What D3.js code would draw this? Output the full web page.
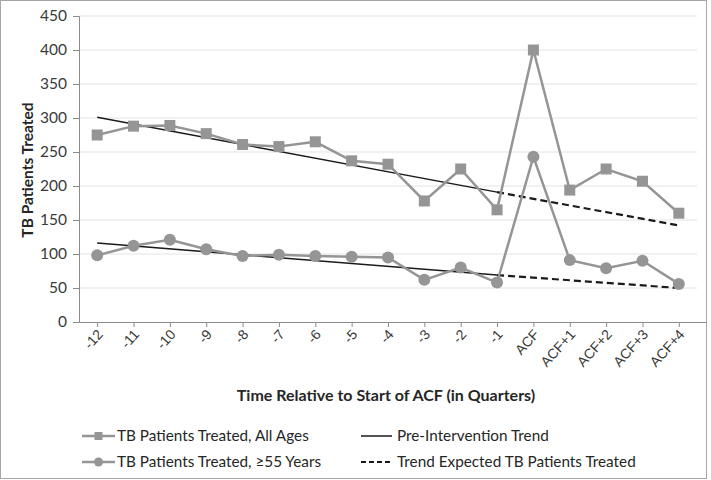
<!DOCTYPE html>
<html><head><meta charset="utf-8">
<script src="https://cdn.jsdelivr.net/npm/d3@7"></script>
<style>
body{margin:0;background:#fff;}
svg{font-family:Lato,"Open Sans",sans-serif;}
</style></head>
<body><svg id="chart" width="711" height="480"></svg>
<script>
const categories = ["-12","-11","-10","-9","-8","-7","-6","-5","-4","-3","-2","-1","ACF","ACF+1","ACF+2","ACF+3","ACF+4"];
const allAges = [275,288,289,277,261,258,265,237,232,178,225,165,400,194,225,207,160];
const age55 = [98,112,121,107,97,99,97,96,95,62,80,58,243,91,79,90,56];
const preTrendAll = [{c:"-12",v:301},{c:"-1",v:191}];
const expectedAll = [{c:"-1",v:191},{c:"ACF+4",v:142}];
const preTrend55 = [{c:"-12",v:116},{c:"-1",v:69}];
const expected55 = [{c:"-1",v:69},{c:"ACF+4",v:50}];
const yTicks = [0,50,100,150,200,250,300,350,400,450];

const svg = d3.select("#chart");
svg.append("rect").attr("x",0.5).attr("y",0.5).attr("width",706).attr("height",478)
  .attr("fill","#fff").attr("stroke","#a6a6a6").attr("stroke-width",1);

const pL=79, pR=697, pT=16, pB=322;
const x = d3.scalePoint().domain(categories).range([pL,pR]).padding(0.5);
const y = d3.scaleLinear().domain([0,450]).range([pB,pT]);

// grid
svg.append("g").selectAll("line").data(yTicks.filter(d=>d>0)).join("line")
  .attr("x1",pL).attr("x2",pR).attr("y1",d=>y(d)).attr("y2",d=>y(d))
  .attr("stroke","#e3e3e3").attr("stroke-width",1.2);

// y axis
const yAxis = svg.append("g").attr("transform",`translate(${pL},0)`)
  .call(d3.axisLeft(y).tickValues(yTicks).tickSize(6).tickPadding(6));
yAxis.select(".domain").attr("stroke","#8c8c8c");
yAxis.selectAll(".tick line").attr("stroke","#8c8c8c");
yAxis.selectAll("text").attr("font-size",15.5).attr("fill","#3a3a3a").attr("font-family","Lato,sans-serif");

// x axis
const xAxis = svg.append("g").attr("transform",`translate(0,${pB})`)
  .call(d3.axisBottom(x).tickSize(5).tickSizeOuter(0));
xAxis.select(".domain").attr("stroke","#8c8c8c").attr("d",`M${pL},0.5H${pR+10}`);
xAxis.selectAll(".tick line").attr("stroke","#8c8c8c");
xAxis.selectAll("text").attr("font-size",14).attr("fill","#3a3a3a")
  .attr("text-anchor","end").attr("dy",0).attr("y",0)
  .attr("transform","translate(6,13) rotate(-48)");

// trend lines
const lineT = d3.line().x(d=>x(d.c)).y(d=>y(d.v));
[[preTrendAll,null],[preTrend55,null],[expectedAll,"7,4"],[expected55,"7,4"]].forEach(([d,dash])=>{
  svg.append("path").attr("d",lineT(d)).attr("fill","none").attr("stroke","#1a1a1a")
    .attr("stroke-width",dash?2.2:1.5).attr("stroke-dasharray",dash);
});

// series
const gray="#959595";
const line = d3.line().x((d,i)=>x(categories[i])).y(d=>y(d));
svg.append("path").attr("d",line(allAges)).attr("fill","none").attr("stroke",gray).attr("stroke-width",2.5);
svg.append("path").attr("d",line(age55)).attr("fill","none").attr("stroke",gray).attr("stroke-width",2.5);
svg.append("g").selectAll("rect").data(allAges).join("rect")
  .attr("x",(d,i)=>x(categories[i])-5.5).attr("y",d=>y(d)-5.5).attr("width",11).attr("height",11).attr("fill",gray);
svg.append("g").selectAll("circle").data(age55).join("circle")
  .attr("cx",(d,i)=>x(categories[i])).attr("cy",d=>y(d)).attr("r",6).attr("fill",gray);

// axis titles
svg.append("text").attr("transform","translate(33,170) rotate(-90)").attr("text-anchor","middle")
  .attr("font-size",15.5).attr("font-weight","bold").attr("fill","#262626").text("TB Patients Treated");
svg.append("text").attr("x",386).attr("y",401).attr("text-anchor","middle")
  .attr("font-size",16).attr("font-weight","bold").attr("fill","#262626").text("Time Relative to Start of ACF (in Quarters)");

// legend
const leg = svg.append("g").attr("font-size",15.3).attr("fill","#262626");
const items = [
  {x:82,y:436,label:"TB Patients Treated, All Ages",type:"square"},
  {x:82,y:462,label:"TB Patients Treated, \u226555 Years",type:"circle"},
  {x:361,y:436,label:"Pre-Intervention Trend",type:"solid"},
  {x:361,y:462,label:"Trend Expected TB Patients Treated",type:"dash"}
];
items.forEach(it=>{
  const g = leg.append("g");
  if(it.type==="square"||it.type==="circle"){
    g.append("line").attr("x1",it.x).attr("x2",it.x+33).attr("y1",it.y).attr("y2",it.y).attr("stroke",gray).attr("stroke-width",2.5);
    if(it.type==="square") g.append("rect").attr("x",it.x+12.5).attr("y",it.y-4).attr("width",8).attr("height",8).attr("fill",gray);
    else g.append("circle").attr("cx",it.x+16.5).attr("cy",it.y).attr("r",4.5).attr("fill",gray);
  } else {
    g.append("line").attr("x1",it.x).attr("x2",it.x+31).attr("y1",it.y).attr("y2",it.y).attr("stroke","#1a1a1a")
      .attr("stroke-width",it.type==="dash"?2.2:1.5).attr("stroke-dasharray",it.type==="dash"?"5,3":null);
  }
  g.append("text").attr("x",it.x+(it.type==="square"||it.type==="circle"?35:36)).attr("y",it.y+5).text(it.label);
});
</script></body></html>
